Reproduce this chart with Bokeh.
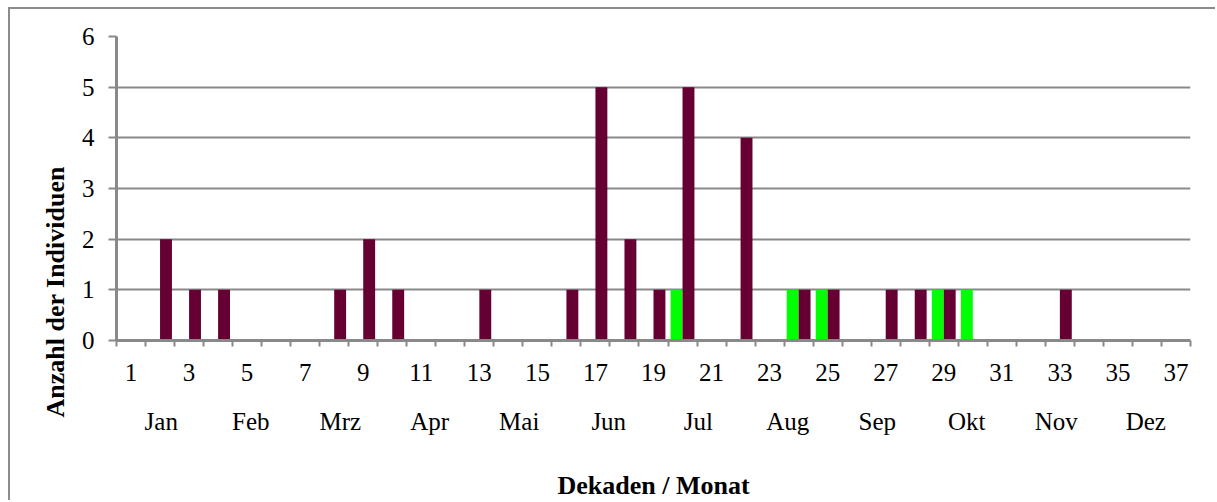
from bokeh.plotting import figure
from bokeh.models import (ColumnDataSource, FixedTicker, LinearAxis, Title, Range1d)
from bokeh.transform import dodge
from bokeh.embed import file_html
from bokeh.resources import INLINE

# ---- data ----
dekaden = list(range(1, 38))
tick_labels = [str(d) for d in dekaden if d % 2 == 1]
monate = ["Jan", "Feb", "Mrz", "Apr", "Mai", "Jun", "Jul", "Aug", "Sep", "Okt", "Nov", "Dez"]
serie_dunkel = [0, 2, 1, 1, 0, 0, 0, 1, 2, 1, 0, 0, 1, 0, 0, 1, 5, 2, 1, 5, 0, 4, 0, 1, 1,
                0, 1, 1, 1, 0, 0, 0, 1, 0, 0, 0, 0]
serie_gruen = [0, 0, 0, 0, 0, 0, 0, 0, 0, 0, 0, 0, 0, 0, 0, 0, 0, 0, 0, 1, 0, 0, 0, 1, 1,
               0, 0, 0, 1, 1, 0, 0, 0, 0, 0, 0, 0]

source = ColumnDataSource(dict(x=dekaden, dunkel=serie_dunkel, gruen=serie_gruen))

FONT = "Liberation Serif"
GRAY = "#898989"

p = figure(width=1207, height=493, output_backend="svg", toolbar_location=None,
           x_range=Range1d(0.5, 37.5), y_range=Range1d(0, 6),
           min_border_left=106, min_border_right=27, min_border_top=27, min_border_bottom=150)
p.margin = (7, 0, 0, 8)
p.styles = {"border-left": "2px solid #8c8c8c", "border-top": "2px solid #8c8c8c"}
p.outline_line_color = None
p.background_fill_color = "white"
p.border_fill_color = "white"

bw = 0.41
p.vbar(x=dodge("x", -bw / 2, range=p.x_range), top="gruen", width=bw, source=source,
       fill_color="#00FF00", line_color=None)
p.vbar(x=dodge("x", bw / 2, range=p.x_range), top="dunkel", width=bw, source=source,
       fill_color="#660033", line_color=None)

# grid
p.xgrid.grid_line_color = None
p.ygrid.grid_line_color = GRAY
p.ygrid.grid_line_width = 2
p.ygrid.ticker = FixedTicker(ticks=[1, 2, 3, 4, 5, 6])

# y axis
p.yaxis.ticker = FixedTicker(ticks=[0, 1, 2, 3, 4, 5, 6])
p.yaxis.axis_line_color = GRAY
p.yaxis.axis_line_width = 3
p.yaxis.major_tick_line_color = GRAY
p.yaxis.major_tick_line_width = 2
p.yaxis.major_tick_out = 8
p.yaxis.major_tick_in = 0
p.yaxis.minor_tick_line_color = None
p.yaxis.major_label_text_font = FONT
p.yaxis.major_label_text_font_size = "25px"
p.yaxis.major_label_text_color = "black"
p.yaxis.major_label_standoff = 14

# x axis (decades)
odd = [d for d in dekaden if d % 2 == 1]
bounds = [d - 0.5 for d in dekaden] + [dekaden[-1] + 0.5]
xa = p.xaxis[0]
xa.ticker = FixedTicker(ticks=odd, minor_ticks=bounds)
xa.major_label_overrides = {d: lab for d, lab in zip(odd, tick_labels)}
xa.axis_line_color = GRAY
xa.axis_line_width = 3
xa.major_tick_line_color = None
xa.major_tick_out = 6
xa.major_tick_in = 0
xa.minor_tick_line_color = GRAY
xa.minor_tick_line_width = 2
xa.minor_tick_out = 6
xa.minor_tick_in = 0
xa.major_label_text_font = FONT
xa.major_label_text_font_size = "25px"
xa.major_label_text_color = "black"
xa.major_label_standoff = 17

# month axis
n = len(dekaden)
mpos = [0.5 + (k + 0.5) * n / 12 for k in range(12)]
ma = LinearAxis(ticker=FixedTicker(ticks=mpos),
                major_label_overrides={m: lab for m, lab in zip(mpos, monate)})
ma.axis_line_color = None
ma.major_tick_line_color = None
ma.minor_tick_line_color = None
ma.major_label_text_font = FONT
ma.major_label_text_font_size = "25px"
ma.major_label_text_color = "black"
ma.major_label_standoff = 18
ma.axis_label = "Dekaden / Monat"
ma.axis_label_text_font = FONT
ma.axis_label_text_font_style = "bold"
ma.axis_label_text_font_size = "26px"
ma.axis_label_text_color = "black"
ma.axis_label_standoff = 33
p.add_layout(ma, "below")

# y title
p.add_layout(Title(text="Anzahl der Individuen", align="left", offset=-77, standoff=17,
                   text_font=FONT, text_font_style="bold", text_font_size="26px",
                   text_color="black"), "left")

open("out.html", "w").write(file_html(p, INLINE))
